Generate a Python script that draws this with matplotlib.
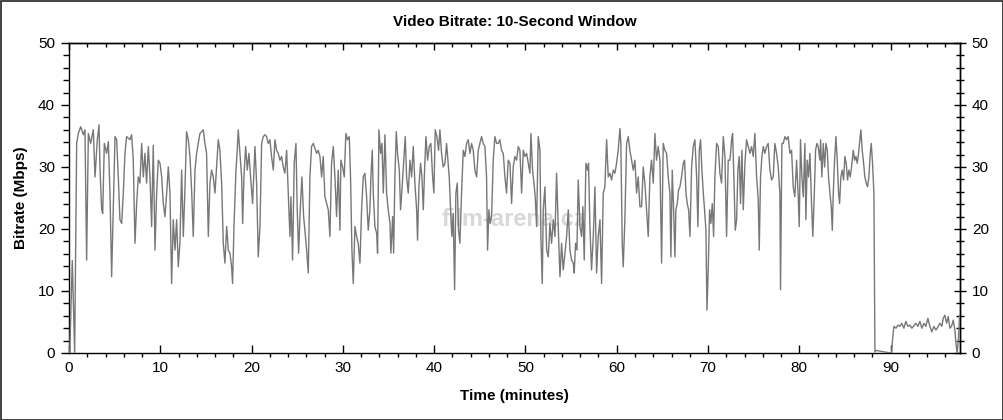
import matplotlib
matplotlib.use("Agg")
import matplotlib.pyplot as plt
from matplotlib.ticker import MultipleLocator
from matplotlib.patches import Rectangle

plt.rcParams['font.family'] = ['Liberation Sans', 'DejaVu Sans']

title = "Video Bitrate: 10-Second Window"
x_label = "Time (minutes)"
y_label = "Bitrate (Mbps)"
x_ticks = [0, 10, 20, 30, 40, 50, 60, 70, 80, 90]
y_ticks = [0, 10, 20, 30, 40, 50]

time_min = [
    0.08, 0.36, 0.62, 0.84, 1.02, 1.28, 1.57, 1.75, 1.93, 2.12, 2.37, 2.66, 2.85, 3.10, 3.29, 3.39,
    3.58, 3.69, 3.87, 4.12, 4.31, 4.49, 4.67, 4.85, 5.04, 5.22, 5.40, 5.58, 5.77, 5.95, 6.13, 6.31,
    6.68, 6.86, 7.04, 7.23, 7.41, 7.59, 7.77, 7.96, 8.14, 8.32, 8.50, 8.69, 8.87, 9.05, 9.23, 9.42,
    9.60, 9.78, 9.97, 10.15, 10.33, 10.51, 10.70, 10.88, 11.06, 11.24, 11.42, 11.61, 11.79, 11.97,
    12.15, 12.34, 12.52, 12.70, 12.88, 13.07, 13.25, 13.43, 13.61, 13.80, 13.98, 14.16, 14.34, 14.71,
    14.89, 15.07, 15.26, 15.44, 15.62, 15.80, 15.99, 16.17, 16.35, 16.53,
    16.72, 16.90, 17.08, 17.27, 17.45, 17.63, 17.81, 17.92, 18.07, 18.29, 18.43, 18.54, 18.73, 18.91,
    19.02, 19.16, 19.35, 19.53, 19.71, 19.89, 20.11, 20.37, 20.55, 20.73, 20.92, 21.10, 21.28, 21.46,
    21.65, 21.83, 22.01, 22.19, 22.38, 22.56, 22.74, 22.92, 23.11, 23.29, 23.47, 23.65, 23.84, 24.02,
    24.20, 24.31, 24.49, 24.67, 24.86, 25.00, 25.15, 25.33, 25.51, 25.70, 25.84, 26.03, 26.21, 26.39,
    26.57, 26.76, 26.94, 27.12, 27.30, 27.49, 27.67, 27.85, 28.03, 28.22, 28.40, 28.58, 28.76, 28.95,
    29.13, 29.31, 29.49, 29.68, 29.78, 29.97, 30.15, 30.33, 30.51, 30.70, 30.84, 30.99, 31.14, 31.32,
    31.50, 31.68, 31.87, 32.05, 32.23, 32.41, 32.60, 32.78, 32.96,
    33.07, 33.22, 33.33, 33.51, 33.70, 33.80, 33.95, 34.13, 34.28, 34.43, 34.61, 34.79, 34.97, 35.16,
    35.26, 35.45, 35.56, 35.70, 35.85, 35.99, 36.18, 36.32, 36.47, 36.65, 36.83, 36.98, 37.16, 37.35,
    37.53, 37.71, 37.89, 38.08, 38.18, 38.33, 38.51, 38.66, 38.81, 38.95, 39.10, 39.28, 39.46, 39.64,
    39.83, 39.97, 40.12, 40.30, 40.48, 40.63, 40.81, 40.99, 41.18, 41.36, 41.51, 41.65, 41.80, 41.94,
    42.09, 42.24, 42.38, 42.53, 42.67, 42.82, 43.00, 43.19, 43.37, 43.55, 43.73, 43.92, 44.10, 44.28,
    44.46, 44.65, 44.83, 45.01, 45.19, 45.38, 45.56, 45.74, 45.85, 46.00, 46.14, 46.29, 46.47, 46.65,
    46.84, 47.02, 47.20, 47.38, 47.57, 47.75, 47.93, 48.11, 48.30, 48.48, 48.66, 48.84, 49.03, 49.21,
    49.39,
    49.58, 49.76, 49.94, 50.13, 50.31, 50.49, 50.60, 50.78, 50.93, 51.07, 51.22, 51.40, 51.59, 51.69,
    51.84, 51.95, 52.13, 52.32, 52.50, 52.68, 52.86, 53.05, 53.23, 53.41, 53.59, 53.78, 53.96, 54.14,
    54.32, 54.51, 54.69, 54.87, 55.05, 55.24, 55.34, 55.49, 55.64, 55.78, 55.97, 56.15, 56.29, 56.44,
    56.62, 56.80, 56.91, 57.06, 57.24, 57.43, 57.61, 57.79, 57.97, 58.16, 58.34, 58.52, 58.70, 58.89,
    59.07, 59.25, 59.43, 59.62, 59.80, 59.98, 60.16, 60.35, 60.45, 60.60, 60.71, 60.89, 61.08, 61.26,
    61.44, 61.62, 61.81, 61.99, 62.17, 62.35, 62.54, 62.72, 62.90, 63.08, 63.27, 63.45, 63.63, 63.81,
    64.00, 64.18, 64.36, 64.54, 64.73, 64.91, 65.09, 65.27, 65.46, 65.64, 65.82,
    65.93, 66.08, 66.23, 66.37, 66.48, 66.63, 66.77, 66.92, 67.10, 67.29, 67.43, 67.58, 67.72, 67.87,
    68.02, 68.20, 68.38, 68.56, 68.75, 68.89, 69.04, 69.18, 69.33, 69.48, 69.62, 69.77, 69.88, 70.02,
    70.17, 70.31, 70.46, 70.61, 70.75, 70.94, 71.12, 71.30, 71.48, 71.67, 71.85, 72.03, 72.21, 72.40,
    72.58, 72.69, 72.83, 72.98, 73.13, 73.27, 73.42, 73.56, 73.71, 73.86, 74.04, 74.22, 74.40, 74.59,
    74.77, 74.95, 75.13, 75.32, 75.50, 75.61, 75.75, 75.90, 76.05, 76.23, 76.41, 76.59, 76.78, 76.96,
    77.14, 77.32, 77.51, 77.69, 77.87, 77.94, 78.09, 78.24, 78.42, 78.60, 78.78, 78.97, 79.15, 79.33,
    79.51, 79.70, 79.88, 79.99, 80.13, 80.28, 80.43, 80.61, 80.72, 80.86, 81.01, 81.16, 81.34, 81.48,
    81.63, 81.78, 81.92, 82.07, 82.25,
    82.33, 82.47, 82.62, 82.77, 82.91, 83.06, 83.20, 83.35, 83.50, 83.61, 83.72, 83.86, 84.01, 84.15,
    84.30, 84.41, 84.55, 84.70, 84.85, 84.99, 85.14, 85.28, 85.43, 85.58, 85.72, 85.91, 86.05, 86.20,
    86.34, 86.49, 86.64, 86.74, 86.89, 87.04, 87.18, 87.33, 87.47, 87.62, 87.77, 87.88, 88.02, 88.17,
    88.28, 88.45, 88.80, 89.20, 89.60, 90.10, 90.21, 90.36, 90.58, 90.80, 91.02, 91.23, 91.45, 91.67,
    91.89, 92.11, 92.33, 92.55, 92.77, 92.99, 93.21, 93.42, 93.64, 93.86, 94.08, 94.30, 94.52, 94.74,
    94.96, 95.18, 95.40, 95.61, 95.76, 95.94, 96.13, 96.31, 96.49, 96.67, 96.86, 97.04, 97.15, 97.29,
    97.44, 97.55,
]

bitrate_mbps = [
    0.0, 14.9, 0.0, 33.8, 35.4, 36.5, 35.2, 36.0, 15.0, 35.4, 33.8, 36.0, 28.4, 34.4, 36.8, 30.0,
    23.1, 22.5, 33.8, 32.2, 34.1, 25.8, 12.3, 23.1, 34.9, 34.4, 28.4, 21.5, 20.9, 25.8, 32.2, 34.9,
    34.4, 35.2, 31.1, 17.7, 24.1, 28.4, 27.4, 33.8, 28.4, 32.2, 27.4, 33.3, 28.4, 20.4, 33.5, 16.6,
    25.8, 31.1, 30.6, 28.4, 24.1, 22.0, 25.8, 30.0, 25.8, 11.2, 21.5, 16.6, 21.5, 13.9,
    17.7, 29.5, 18.8, 26.3, 35.7, 34.4, 31.7, 26.3, 18.8, 29.5, 32.2, 33.8, 35.4, 36.0,
    33.8, 32.2, 18.8, 27.4, 29.5, 28.4, 25.8, 30.0, 34.4, 32.7,
    27.4, 17.7, 14.5, 20.4, 16.6, 16.1, 13.9, 11.2, 20.4, 29.5, 32.7, 36.0, 32.2, 28.4,
    20.9, 28.4, 33.3, 29.5, 32.2, 28.4, 24.1, 33.3, 27.4, 15.5, 20.4, 33.8, 34.9, 35.2,
    34.9, 33.8, 34.4, 31.7, 29.5, 34.4, 32.7, 32.2, 31.1, 31.7, 30.0, 29.0, 32.7, 25.8,
    18.8, 25.2, 15.0, 30.6, 33.8, 23.1, 16.1, 23.1, 28.4, 22.0, 19.8, 16.6, 12.9, 28.4,
    33.3, 33.8, 33.0, 32.2, 32.7, 31.7, 28.4, 31.7, 25.2, 24.1, 23.1, 18.8, 30.6, 33.3,
    28.4, 22.0, 29.5, 19.8, 31.1, 30.0, 28.4, 35.4, 34.4, 34.9, 28.4, 16.6, 11.2, 20.4,
    18.8, 17.7, 14.5, 23.1, 28.4, 29.0, 25.2, 19.8, 23.1,
    28.4, 32.7, 25.8, 20.4, 19.3, 16.1, 36.0, 32.2, 33.8, 25.8, 35.2, 25.8, 23.1, 20.9,
    16.1, 22.0, 16.1, 28.4, 35.7, 32.2, 29.5, 23.1, 26.3, 30.6, 34.9, 28.4, 25.8, 31.1,
    28.4, 33.3, 27.4, 23.1, 18.2, 26.8, 30.6, 28.4, 23.1, 29.5, 34.9, 31.1, 33.3, 33.8,
    28.4, 25.8, 36.0, 34.9, 32.7, 36.0, 32.2, 30.0, 30.6, 33.8, 31.1, 28.4, 23.1, 18.8,
    22.5, 10.2, 25.8, 27.4, 19.8, 17.7, 25.8, 32.7, 31.7, 33.8, 34.4, 32.2, 33.8, 32.7,
    29.5, 28.4, 32.7, 33.8, 34.9, 33.8, 33.3, 28.4, 16.6, 23.1, 20.9, 22.0, 31.1, 34.9,
    33.8, 33.8, 34.4, 32.7, 32.2, 28.4, 25.8, 31.1, 30.6, 24.1, 30.0, 31.7, 31.1, 33.3,
    32.7,
    25.8, 32.7, 31.7, 32.2, 30.6, 29.0, 35.4, 29.5, 27.4, 25.2, 20.4, 34.9, 32.7, 18.8,
    11.2, 23.1, 26.8, 16.6, 15.5, 20.9, 17.7, 21.5, 18.8, 29.0, 20.4, 12.3, 17.7, 13.4,
    16.1, 18.8, 23.1, 16.6, 15.0, 14.5, 12.9, 17.7, 16.6, 27.9, 20.4, 18.8, 23.6, 15.0,
    30.6, 29.5, 30.6, 20.4, 13.4, 18.8, 26.8, 12.9, 18.8, 21.5, 11.2, 25.8, 26.8, 34.4,
    28.4, 29.0, 27.9, 29.5, 29.0, 30.6, 32.7, 36.2, 33.8, 17.7, 13.9, 21.5, 33.8, 34.9,
    32.7, 31.1, 29.5, 31.1, 25.8, 28.4, 23.6, 23.6, 30.0, 27.4, 23.1, 18.8, 28.4, 31.1,
    27.4, 35.4, 31.1, 33.3, 31.1, 14.5, 33.8, 32.7, 32.2, 28.4, 25.8,
    15.5, 29.5, 23.1, 15.5, 23.1, 24.1, 26.3, 26.8, 28.4, 30.6, 31.1, 25.8, 24.1, 23.1,
    18.8, 30.0, 33.3, 34.4, 28.4, 20.4, 32.7, 34.4, 29.5, 25.8, 23.1, 19.8, 6.9, 13.4,
    23.1, 20.9, 24.1, 18.8, 28.4, 33.8, 33.3, 29.0, 27.4, 34.9, 31.7, 18.8, 31.1, 31.1,
    34.4, 35.4, 28.4, 19.8, 21.5, 29.5, 31.7, 24.1, 32.7, 23.1, 30.6, 34.4, 33.3, 32.2,
    33.3, 31.7, 35.4, 28.4, 24.7, 16.6, 28.4, 31.7, 33.3, 32.2, 33.3, 33.8, 29.5, 27.9,
    28.4, 33.8, 32.2, 30.0, 25.8, 10.2, 33.8, 33.8, 34.9, 34.4, 34.9, 32.2, 32.7, 26.8,
    25.2, 31.1, 25.2, 20.4, 34.4, 28.4, 25.2, 33.8, 21.5, 31.1, 28.4, 32.2, 24.1, 18.8,
    25.2, 32.7, 33.8, 33.3, 31.1,
    34.4, 28.4, 33.8, 30.0, 33.8, 32.7, 28.4, 25.8, 23.6, 19.8, 25.8, 31.1, 34.9, 31.1,
    25.8, 24.1, 28.4, 29.5, 27.9, 31.7, 30.6, 27.9, 29.5, 28.4, 30.0, 32.7, 31.1, 31.7,
    30.6, 32.2, 34.4, 36.0, 32.7, 30.6, 28.4, 27.4, 26.8, 28.4, 32.2, 33.8, 30.6, 25.8,
    0.2, 0.4, 0.3, 0.2, 0.1, 0.0, 2.1, 4.3, 4.0, 4.5, 4.3, 4.8, 4.0, 5.1,
    4.3, 4.5, 4.0, 4.4, 4.8, 4.3, 5.1, 4.0, 4.8, 4.3, 5.6, 4.3, 3.4, 4.3,
    3.7, 4.2, 4.8, 4.3, 5.6, 6.1, 4.8, 5.9, 4.0, 4.3, 5.3, 3.7, 1.6, 0.0,
    2.6, 6.1,
]

W, H = 1004, 420
fig = plt.figure(figsize=(W / 100, H / 100), dpi=100)
ax = fig.add_axes([69 / W, 1 - 353 / H, (960 - 69) / W, (353 - 43) / H])

ax.plot(time_min, bitrate_mbps, color='#777777', linewidth=1.0, zorder=3)

ax.text(0.50, 0.43, "film-arena.cz", transform=ax.transAxes, ha='center', va='center',
        fontsize=17, fontweight='bold', color='#d8d8d8', zorder=1)

ax.set_xlim(0, 97.6)
ax.set_ylim(0, 50)
ax.set_xticks(x_ticks)
ax.set_yticks(y_ticks)
ax.xaxis.set_minor_locator(MultipleLocator(2))
ax.yaxis.set_minor_locator(MultipleLocator(2))
ax.tick_params(axis='both', which='both', labelsize=11, colors='black', width=1, top=False, right=False)
ax.tick_params(axis='x', which='major', direction='in', length=6, pad=6)
ax.tick_params(axis='x', which='minor', direction='out', length=3)
ax.tick_params(axis='y', which='major', direction='out', length=6, pad=4)
ax.tick_params(axis='y', which='minor', direction='out', length=4)

# top axis ticks (inward, no labels)
top = ax.secondary_xaxis('top')
top.set_xticks(x_ticks)
top.xaxis.set_minor_locator(MultipleLocator(2))
top.tick_params(which='major', direction='in', length=5, width=1, labeltop=False)
top.tick_params(which='minor', direction='in', length=3, width=1)
top.set_xticklabels([])

# right axis ticks (crossing) with labels
right = ax.secondary_yaxis('right')
right.set_yticks(y_ticks)
right.yaxis.set_minor_locator(MultipleLocator(2))
right.tick_params(which='major', direction='inout', length=9, width=1, labelsize=11, pad=4)
right.tick_params(which='minor', direction='inout', length=6, width=1)

for a in (ax, top, right):
    for s in a.spines.values():
        s.set_linewidth(1)
        s.set_color('black')

ax.set_title(title, fontsize=11, fontweight='bold', pad=12)
ax.set_xlabel(x_label, fontsize=11, fontweight='bold', labelpad=10)
ax.set_ylabel(y_label, fontsize=11, fontweight='bold', labelpad=7)

fig.patches.append(Rectangle((0.5 / W, 0.5 / H), 1 - 1.5 / W, 1 - 1.5 / H, transform=fig.transFigure,
                             fill=False, edgecolor='#222222', linewidth=1.2))

fig.savefig("out.png", dpi=100)
